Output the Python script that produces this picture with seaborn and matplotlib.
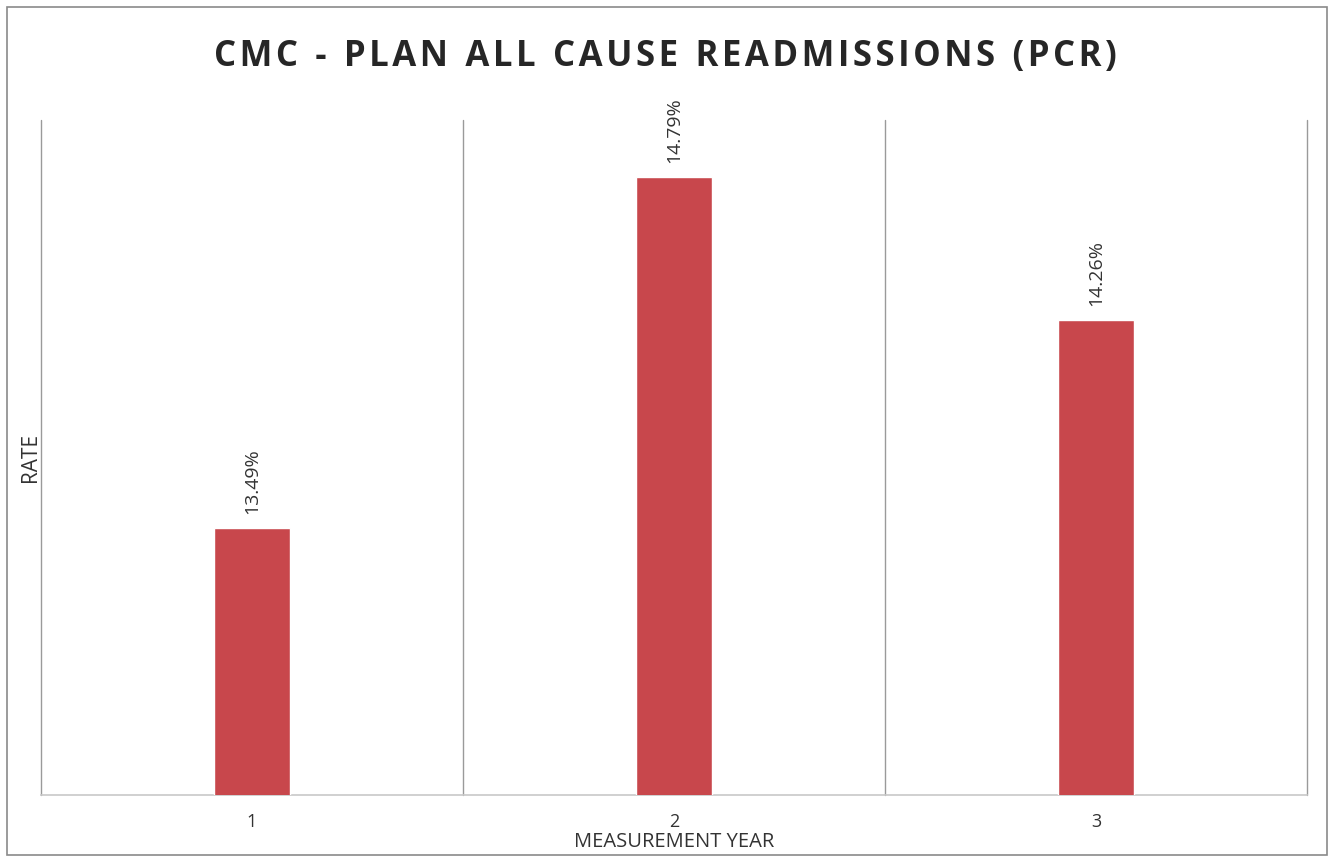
import matplotlib
matplotlib.use("Agg")
import matplotlib.pyplot as plt
import seaborn as sns
import pandas as pd
from matplotlib.patches import Rectangle

# Plan all-cause readmission rate (%) by measurement year
years = ["1", "2", "3"]
rates = [13.49, 14.79, 14.26]
labels = ["13.49%", "14.79%", "14.26%"]

df = pd.DataFrame({"year": years, "rate": rates})

sns.set_theme(style="white")
plt.rcParams["font.family"] = ["Open Sans", "DejaVu Sans"]

fig = plt.figure(figsize=(13.31, 8.6), dpi=100)
ax = fig.add_axes([41 / 1331, 1 - 795 / 860, (1307 - 41) / 1331, (795 - 120) / 860])

sns.barplot(data=df, x="year", y="rate", color="#C8474C", width=0.18,
            saturation=1, ax=ax, zorder=3)

ax.set_ylim(12.5, 15.0)
ax.set_xlim(-0.5, 2.5)
ax.set_yticks([])

# category separators
for xb in [-0.5, 0.5, 1.5, 2.5]:
    ax.axvline(xb, color="#9a9a9a", lw=1.0, zorder=1, clip_on=False)

for s in ["top", "left", "right"]:
    ax.spines[s].set_visible(False)
ax.spines["bottom"].set_color("#c8c8c8")
ax.spines["bottom"].set_linewidth(1.2)

ax.tick_params(axis="x", length=0, pad=13, labelsize=13, labelcolor="#333333")
ax.set_xlabel("MEASUREMENT YEAR", fontsize=14.5, color="#333333", labelpad=1)
ax.set_ylabel("RATE", fontsize=15, color="#333333", labelpad=0)

for i, (v, t) in enumerate(zip(rates, labels)):
    ax.annotate(t, (i, v), xytext=(0, 10), textcoords="offset points",
                rotation=90, ha="center", va="bottom", fontsize=14,
                color="#333333")

title = "CMC - PLAN ALL CAUSE READMISSIONS (PCR)"
spaced = "\u2002".join("\u200a".join(w) for w in title.split(" "))
fig.text(0.5, 1 - 57 / 860, spaced, ha="center", va="center", fontsize=25,
         fontweight="bold", color="#262626")

# outer chart frame
fig.patches.append(Rectangle((7 / 1331, 1 - 855 / 860), (1327 - 7) / 1331,
                             (855 - 7) / 860, transform=fig.transFigure,
                             fill=False, edgecolor="#8a8a8a", lw=1.2))

fig.savefig("out.png", dpi=100)
